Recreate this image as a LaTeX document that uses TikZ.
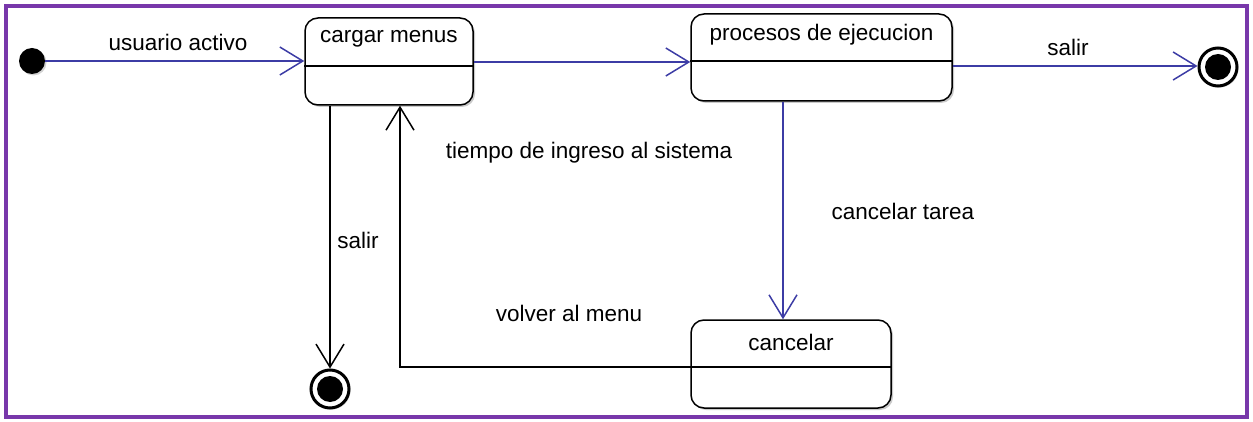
\documentclass[tikz,border=0pt]{standalone}
\usepackage{fontspec}
\setmainfont{Liberation Sans}
\usetikzlibrary{arrows.meta,shadows}
\definecolor{frameP}{RGB}{120,55,170}
\definecolor{lineB}{RGB}{60,60,165}
\tikzset{
  statebox/.style={draw=black, line width=1.5pt, rounded corners=13pt, fill=white,
    drop shadow={shadow xshift=2pt, shadow yshift=-2pt, opacity=0.35, fill=black!60}},
  lbl/.style={font=\fontsize{22.5}{26}\selectfont, inner sep=0pt},
  tip/.style={-{Straight Barb[length=23pt,width=28pt,line width=1.5pt]}},
  bluel/.style={draw=lineB, line width=1.5pt},
  blackl/.style={draw=black, line width=1.5pt},
  finalst/.style={circle, draw=black, line width=3pt, fill=white, minimum size=38pt, inner sep=0pt,
    drop shadow={shadow xshift=1.5pt, shadow yshift=-1.5pt, opacity=0.35}},
}
\begin{document}
\begin{tikzpicture}[x=1pt,y=-1pt]
\useasboundingbox (0,0) rectangle (1253,422);
\draw[frameP, line width=4pt] (6,6) rectangle (1247,417);
% states
\node[statebox, minimum width=168pt, minimum height=87pt] (cargar) at (389,61.5) {};
\node[statebox, minimum width=261pt, minimum height=87pt] (procesos) at (821.5,57.5) {};
\node[statebox, minimum width=200pt, minimum height=88pt] (cancelar) at (791,364) {};
\node[lbl] (tcargar) at (389,39) {cargar menus};
\node[lbl] (tprocesos) at (821.5,35) {procesos de ejecucion};
\node[lbl] (tcancelar) at (791,342) {cancelar};
\draw[blackl] (cargar.west |- 0,66) -- (cargar.east |- 0,66);
\draw[blackl] (procesos.west |- 0,61) -- (procesos.east |- 0,61);
\draw[blackl] (cancelar.west |- 0,367) -- (cancelar.east |- 0,367);
% pseudo states
\node[circle, fill=black, minimum size=26pt, inner sep=0pt,
  drop shadow={shadow xshift=1.5pt, shadow yshift=-1.5pt, opacity=0.35}] (init) at (32,61) {};
\node[finalst] (fin1) at (1218,67) {};
\fill[black] (fin1) circle (13pt);
\node[finalst] (fin2) at (330,389) {};
\fill[black] (fin2) circle (13pt);
% connectors
\draw[bluel, tip] (init) -- (init -| cargar.west);
\coordinate (c1) at (cargar.east |- 0,62);
\draw[bluel, tip] (c1) -- (c1 -| procesos.west);
\coordinate (c2) at (procesos.east |- 0,66);
\draw[bluel, tip] (c2) -- (c2 -| fin1.west);
\coordinate (c3) at (procesos.south -| 783,0);
\draw[bluel, tip] (c3) -- (c3 |- cancelar.north);
\draw[blackl, tip] (cargar.south -| fin2) -- (fin2.north);
\coordinate (c4) at (cancelar.east |- 0,367);
\coordinate (c5) at (400,367);
\draw[blackl, tip] (c4) -- (c5) -- (c5 |- cargar.south);
% labels
\node[lbl] (l1) at (178,42) {usuario activo};
\node[lbl] (l2) at (1068,47) {salir};
\node[lbl] (l3) at (589,153) {tiempo de ingreso al sistema};
\node[lbl] (l4) at (903,211) {cancelar tarea};
\node[lbl] (l5) at (358,240) {salir};
\node[lbl] (l6) at (569,313) {volver al menu};
\end{tikzpicture}
\end{document}
